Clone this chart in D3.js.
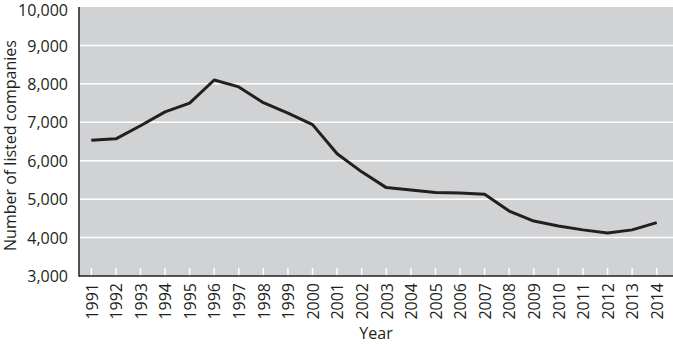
<!DOCTYPE html>
<html>
<head>
<meta charset="utf-8">
<script src="https://cdn.jsdelivr.net/npm/d3@7/dist/d3.min.js"></script>
<style>
  html, body { margin: 0; padding: 0; background: #fff; }
  svg text { font-family: "Open Sans", "Noto Sans", sans-serif; fill: #231f20; }
</style>
</head>
<body>
<svg id="chart" width="673" height="344"></svg>
<script>
// Number of listed companies per year
const years = [1991, 1992, 1993, 1994, 1995, 1996, 1997, 1998, 1999, 2000, 2001, 2002,
               2003, 2004, 2005, 2006, 2007, 2008, 2009, 2010, 2011, 2012, 2013, 2014];
const companies = [6530, 6570, 6910, 7270, 7500, 8100, 7920, 7510, 7240, 6940, 6180, 5710,
                   5300, 5240, 5170, 5160, 5130, 4690, 4430, 4300, 4200, 4120, 4200, 4390];
const yTicks = [3000, 4000, 5000, 6000, 7000, 8000, 9000, 10000];

const svg = d3.select("#chart");
const plotLeft = 79, plotRight = 669, plotTop = 7, plotBottom = 276;

const x = d3.scalePoint().domain(years).range([plotLeft, plotRight]).padding(0.5);
const y = d3.scaleLinear().domain([3000, 10000]).range([plotBottom, plotTop]);
const fmt = d3.format(",");

// plot background
svg.append("rect")
  .attr("x", plotLeft).attr("y", plotTop)
  .attr("width", 673 - plotLeft).attr("height", plotBottom - plotTop)
  .attr("fill", "#d1d2d4");

// horizontal gridlines
svg.append("g").selectAll("line")
  .data(yTicks.filter(d => d > 3000 && d < 10000))
  .join("line")
  .attr("x1", plotLeft).attr("x2", 673)
  .attr("y1", d => y(d)).attr("y2", d => y(d))
  .attr("stroke", "#ffffff").attr("stroke-width", 1.5);

// small inner year ticks
svg.append("g").selectAll("line")
  .data(years)
  .join("line")
  .attr("x1", d => x(d)).attr("x2", d => x(d))
  .attr("y1", plotBottom).attr("y2", plotBottom - 8)
  .attr("stroke", "#ffffff").attr("stroke-width", 1.5);

// y axis labels
const yAxis = d3.axisLeft(y).tickValues(yTicks).tickFormat(fmt).tickSize(0).tickPadding(11);
const gy = svg.append("g").attr("transform", `translate(${plotLeft},0)`).call(yAxis);
gy.select(".domain").remove();
gy.selectAll("text").style("font-size", "16px").attr("dy", "0.35em");
gy.selectAll(".tick").filter(d => d === 10000).select("text").attr("dy", "0.5em");

// x axis labels, rotated
const xAxis = d3.axisBottom(x).tickSize(0).tickPadding(0);
const gx = svg.append("g").attr("transform", `translate(0,${plotBottom})`).call(xAxis);
gx.select(".domain").remove();
gx.selectAll("text")
  .style("font-size", "16px")
  .attr("transform", "rotate(-90)")
  .attr("text-anchor", "end")
  .attr("x", -7).attr("y", 0).attr("dy", "0.36em");

// axis lines
svg.append("line").attr("x1", plotLeft).attr("x2", plotLeft).attr("y1", plotTop).attr("y2", plotBottom + 0.75)
  .attr("stroke", "#231f20").attr("stroke-width", 1.5);
svg.append("line").attr("x1", plotLeft).attr("x2", 673).attr("y1", plotBottom).attr("y2", plotBottom)
  .attr("stroke", "#231f20").attr("stroke-width", 1.5);

// data line
const line = d3.line().x((d, i) => x(years[i])).y(d => y(d));
svg.append("path")
  .datum(companies)
  .attr("d", line)
  .attr("fill", "none")
  .attr("stroke", "#231f20")
  .attr("stroke-width", 3)
  .attr("stroke-linejoin", "round");

// axis titles
svg.append("text")
  .attr("transform", `translate(16,${(plotTop + plotBottom) / 2 + 4}) rotate(-90)`)
  .attr("text-anchor", "middle")
  .style("font-size", "16px")
  .text("Number of listed companies");

svg.append("text")
  .attr("x", 376).attr("y", 339)
  .attr("text-anchor", "middle")
  .style("font-size", "16px")
  .text("Year");
</script>
</body>
</html>
